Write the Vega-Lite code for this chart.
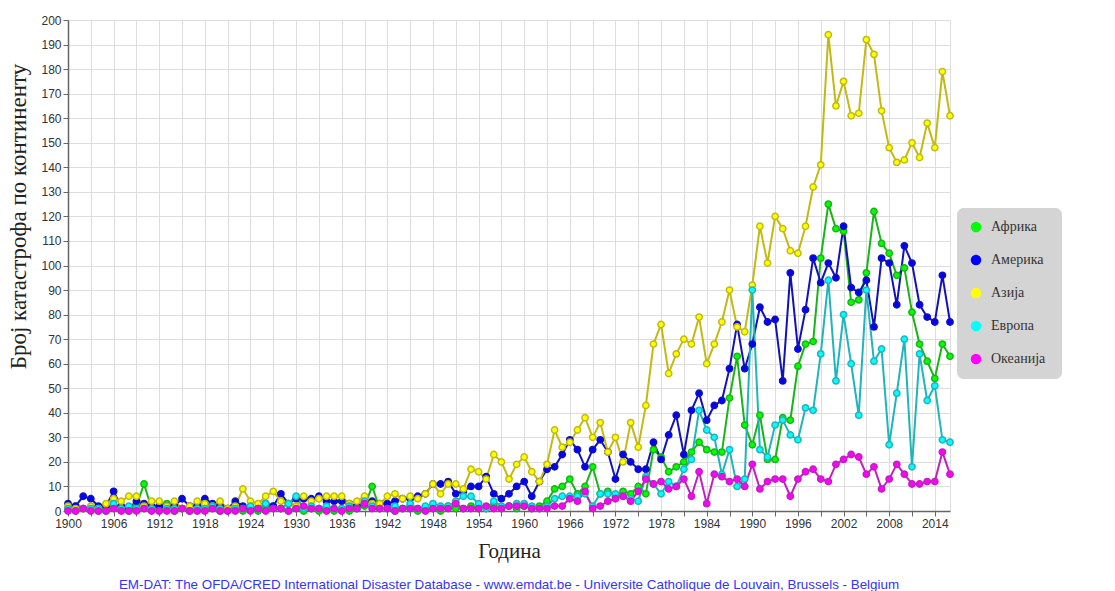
{
"$schema": "https://vega.github.io/schema/vega-lite/v6.json",
"width": 882,
"height": 491,
"autosize": {"type": "none"},
"padding": {"left": 68, "top": 20, "right": 165, "bottom": 80},
"background": "white",
"config": {"view": {"stroke": "#dddddd"}},
"title": {"text": "EM-DAT: The OFDA/CRED International Disaster Database - www.emdat.be - Universite Catholique de Louvain, Brussels - Belgium", "orient": "bottom", "anchor": "middle", "color": "#3535f0", "font": "Liberation Sans", "fontSize": 13.4, "fontWeight": "normal", "offset": 17},
"data": {"values": [
{"year":1900,"Африка":1,"Америка":3,"Азија":2,"Европа":1,"Океанија":0},
{"year":1901,"Африка":2,"Америка":2,"Азија":1,"Европа":0,"Океанија":0},
{"year":1902,"Африка":1,"Америка":6,"Азија":1,"Европа":1,"Океанија":1},
{"year":1903,"Африка":1,"Америка":5,"Азија":2,"Европа":1,"Океанија":0},
{"year":1904,"Африка":0,"Америка":2,"Азија":1,"Европа":1,"Океанија":0},
{"year":1905,"Африка":1,"Америка":2,"Азија":3,"Европа":0,"Океанија":0},
{"year":1906,"Африка":2,"Америка":8,"Азија":5,"Европа":3,"Океанија":1},
{"year":1907,"Африка":1,"Америка":2,"Азија":4,"Европа":1,"Океанија":0},
{"year":1908,"Африка":0,"Америка":1,"Азија":6,"Европа":2,"Океанија":0},
{"year":1909,"Африка":2,"Америка":4,"Азија":6,"Европа":1,"Океанија":0},
{"year":1910,"Африка":11,"Америка":3,"Азија":2,"Европа":1,"Океанија":1},
{"year":1911,"Африка":1,"Америка":2,"Азија":4,"Европа":1,"Океанија":0},
{"year":1912,"Африка":1,"Америка":2,"Азија":4,"Европа":0,"Океанија":0},
{"year":1913,"Африка":3,"Америка":2,"Азија":2,"Европа":1,"Океанија":0},
{"year":1914,"Африка":0,"Америка":2,"Азија":4,"Европа":1,"Океанија":0},
{"year":1915,"Африка":1,"Америка":5,"Азија":1,"Европа":1,"Океанија":1},
{"year":1916,"Африка":0,"Америка":2,"Азија":2,"Европа":0,"Океанија":0},
{"year":1917,"Африка":1,"Америка":2,"Азија":4,"Европа":1,"Океанија":0},
{"year":1918,"Африка":2,"Америка":5,"Азија":3,"Европа":1,"Океанија":0},
{"year":1919,"Африка":1,"Америка":3,"Азија":2,"Европа":2,"Океанија":1},
{"year":1920,"Африка":0,"Америка":2,"Азија":4,"Европа":1,"Океанија":0},
{"year":1921,"Африка":1,"Америка":1,"Азија":1,"Европа":0,"Океанија":0},
{"year":1922,"Африка":1,"Америка":4,"Азија":2,"Европа":1,"Океанија":0},
{"year":1923,"Африка":0,"Америка":2,"Азија":9,"Европа":1,"Океанија":1},
{"year":1924,"Африка":1,"Америка":1,"Азија":4,"Европа":2,"Океанија":0},
{"year":1925,"Африка":0,"Америка":1,"Азија":3,"Европа":1,"Океанија":1},
{"year":1926,"Африка":1,"Америка":3,"Азија":6,"Европа":3,"Океанија":0},
{"year":1927,"Африка":2,"Америка":2,"Азија":8,"Европа":1,"Океанија":1},
{"year":1928,"Африка":1,"Америка":7,"Азија":4,"Европа":1,"Океанија":1},
{"year":1929,"Африка":0,"Америка":3,"Азија":3,"Европа":3,"Океанија":0},
{"year":1930,"Африка":1,"Америка":5,"Азија":2,"Европа":6,"Океанија":1},
{"year":1931,"Африка":0,"Америка":5,"Азија":6,"Европа":1,"Океанија":2},
{"year":1932,"Африка":1,"Америка":5,"Азија":4,"Европа":2,"Океанија":1},
{"year":1933,"Африка":0,"Америка":6,"Азија":5,"Европа":1,"Океанија":1},
{"year":1934,"Африка":1,"Америка":4,"Азија":6,"Европа":2,"Океанија":0},
{"year":1935,"Африка":0,"Америка":4,"Азија":6,"Европа":1,"Океанија":1},
{"year":1936,"Африка":1,"Америка":4,"Азија":6,"Европа":1,"Океанија":0},
{"year":1937,"Африка":0,"Америка":3,"Азија":3,"Европа":2,"Океанија":1},
{"year":1938,"Африка":1,"Америка":2,"Азија":4,"Европа":1,"Океанија":1},
{"year":1939,"Африка":2,"Америка":3,"Азија":6,"Европа":4,"Океанија":3},
{"year":1940,"Африка":10,"Америка":4,"Азија":3,"Европа":2,"Океанија":1},
{"year":1941,"Африка":1,"Америка":3,"Азија":3,"Европа":1,"Океанија":1},
{"year":1942,"Африка":1,"Америка":3,"Азија":6,"Европа":1,"Океанија":1},
{"year":1943,"Африка":0,"Америка":4,"Азија":7,"Европа":2,"Океанија":0},
{"year":1944,"Африка":1,"Америка":5,"Азија":5,"Европа":1,"Океанија":1},
{"year":1945,"Африка":1,"Америка":5,"Азија":6,"Европа":3,"Океанија":1},
{"year":1946,"Африка":0,"Америка":6,"Азија":5,"Европа":1,"Океанија":1},
{"year":1947,"Африка":1,"Америка":7,"Азија":7,"Европа":2,"Океанија":0},
{"year":1948,"Африка":1,"Америка":11,"Азија":11,"Европа":3,"Океанија":1},
{"year":1949,"Африка":0,"Америка":11,"Азија":7,"Европа":2,"Океанија":1},
{"year":1950,"Африка":2,"Америка":12,"Азија":11,"Европа":2,"Океанија":1},
{"year":1951,"Африка":1,"Америка":7,"Азија":11,"Европа":4,"Океанија":3},
{"year":1952,"Африка":1,"Америка":8,"Азија":9,"Европа":6,"Океанија":1},
{"year":1953,"Африка":2,"Америка":10,"Азија":17,"Европа":6,"Океанија":1},
{"year":1954,"Африка":1,"Америка":10,"Азија":16,"Европа":3,"Океанија":1},
{"year":1955,"Африка":1,"Америка":14,"Азија":13,"Европа":1,"Океанија":2},
{"year":1956,"Африка":2,"Америка":7,"Азија":23,"Европа":4,"Океанија":1},
{"year":1957,"Африка":1,"Америка":5,"Азија":20,"Европа":2,"Океанија":1},
{"year":1958,"Африка":2,"Америка":7,"Азија":13,"Европа":2,"Океанија":2},
{"year":1959,"Африка":1,"Америка":10,"Азија":19,"Европа":3,"Океанија":2},
{"year":1960,"Африка":2,"Америка":12,"Азија":22,"Европа":3,"Океанија":2},
{"year":1961,"Африка":1,"Америка":6,"Азија":16,"Европа":2,"Океанија":1},
{"year":1962,"Африка":2,"Америка":12,"Азија":12,"Европа":1,"Океанија":1},
{"year":1963,"Африка":4,"Америка":17,"Азија":19,"Европа":2,"Океанија":1},
{"year":1964,"Африка":9,"Америка":18,"Азија":33,"Европа":5,"Океанија":2},
{"year":1965,"Африка":10,"Америка":23,"Азија":26,"Европа":6,"Океанија":2},
{"year":1966,"Африка":13,"Америка":29,"Азија":28,"Европа":6,"Океанија":5},
{"year":1967,"Африка":7,"Америка":25,"Азија":33,"Европа":6,"Океанија":4},
{"year":1968,"Африка":10,"Америка":18,"Азија":38,"Европа":7,"Океанија":8},
{"year":1969,"Африка":18,"Америка":25,"Азија":30,"Европа":2,"Океанија":1},
{"year":1970,"Африка":7,"Америка":29,"Азија":36,"Европа":7,"Океанија":2},
{"year":1971,"Африка":8,"Америка":24,"Азија":24,"Европа":7,"Океанија":4},
{"year":1972,"Африка":6,"Америка":13,"Азија":30,"Европа":7,"Океанија":5},
{"year":1973,"Африка":8,"Америка":23,"Азија":20,"Европа":6,"Океанија":6},
{"year":1974,"Африка":7,"Америка":20,"Азија":36,"Европа":5,"Океанија":4},
{"year":1975,"Африка":10,"Америка":17,"Азија":26,"Европа":4,"Океанија":8},
{"year":1976,"Африка":7,"Америка":17,"Азија":43,"Европа":14,"Океанија":13},
{"year":1977,"Африка":25,"Америка":28,"Азија":68,"Европа":11,"Океанија":11},
{"year":1978,"Африка":22,"Америка":21,"Азија":76,"Европа":7,"Океанија":12},
{"year":1979,"Африка":16,"Америка":31,"Азија":56,"Европа":12,"Океанија":9},
{"year":1980,"Африка":18,"Америка":39,"Азија":64,"Европа":10,"Океанија":10},
{"year":1981,"Африка":20,"Америка":23,"Азија":70,"Европа":17,"Океанија":13},
{"year":1982,"Африка":24,"Америка":41,"Азија":68,"Европа":21,"Океанија":6},
{"year":1983,"Африка":28,"Америка":48,"Азија":79,"Европа":41,"Океанија":16},
{"year":1984,"Африка":25,"Америка":37,"Азија":60,"Европа":33,"Океанија":3},
{"year":1985,"Африка":24,"Америка":43,"Азија":68,"Европа":30,"Океанија":15},
{"year":1986,"Африка":24,"Америка":45,"Азија":77,"Европа":15,"Океанија":14},
{"year":1987,"Африка":46,"Америка":58,"Азија":90,"Европа":25,"Океанија":12},
{"year":1988,"Африка":63,"Америка":76,"Азија":75,"Европа":10,"Океанија":13},
{"year":1989,"Африка":35,"Америка":58,"Азија":73,"Европа":13,"Океанија":10},
{"year":1990,"Африка":27,"Америка":68,"Азија":92,"Европа":90,"Океанија":19},
{"year":1991,"Африка":39,"Америка":83,"Азија":116,"Европа":25,"Океанија":9},
{"year":1992,"Африка":21,"Америка":77,"Азија":101,"Европа":22,"Океанија":12},
{"year":1993,"Африка":21,"Америка":78,"Азија":120,"Европа":35,"Океанија":13},
{"year":1994,"Африка":38,"Америка":53,"Азија":115,"Европа":37,"Океанија":13},
{"year":1995,"Африка":37,"Америка":97,"Азија":106,"Европа":31,"Океанија":6},
{"year":1996,"Африка":59,"Америка":66,"Азија":105,"Европа":29,"Океанија":13},
{"year":1997,"Африка":68,"Америка":82,"Азија":116,"Европа":42,"Океанија":16},
{"year":1998,"Африка":69,"Америка":103,"Азија":132,"Европа":41,"Океанија":17},
{"year":1999,"Африка":103,"Америка":93,"Азија":141,"Европа":64,"Океанија":13},
{"year":2000,"Африка":125,"Америка":101,"Азија":194,"Европа":94,"Океанија":12},
{"year":2001,"Африка":115,"Америка":95,"Азија":165,"Европа":53,"Океанија":19},
{"year":2002,"Африка":114,"Америка":116,"Азија":175,"Европа":80,"Океанија":21},
{"year":2003,"Африка":85,"Америка":91,"Азија":161,"Европа":60,"Океанија":23},
{"year":2004,"Африка":86,"Америка":89,"Азија":162,"Европа":39,"Океанија":22},
{"year":2005,"Африка":97,"Америка":94,"Азија":192,"Европа":90,"Океанија":15},
{"year":2006,"Африка":122,"Америка":75,"Азија":186,"Европа":61,"Океанија":18},
{"year":2007,"Африка":109,"Америка":103,"Азија":163,"Европа":66,"Океанија":9},
{"year":2008,"Африка":105,"Америка":101,"Азија":148,"Европа":27,"Океанија":13},
{"year":2009,"Африка":96,"Америка":84,"Азија":142,"Европа":48,"Океанија":19},
{"year":2010,"Африка":99,"Америка":108,"Азија":143,"Европа":70,"Океанија":15},
{"year":2011,"Африка":81,"Америка":101,"Азија":150,"Европа":18,"Океанија":11},
{"year":2012,"Африка":68,"Америка":84,"Азија":144,"Европа":64,"Океанија":11},
{"year":2013,"Африка":61,"Америка":79,"Азија":158,"Европа":45,"Океанија":12},
{"year":2014,"Африка":54,"Америка":77,"Азија":148,"Европа":51,"Океанија":12},
{"year":2015,"Африка":68,"Америка":96,"Азија":179,"Европа":29,"Океанија":24},
{"year":2016,"Африка":63,"Америка":77,"Азија":161,"Европа":28,"Океанија":15}
]},
"transform": [{"fold": ["Африка", "Америка", "Азија", "Европа", "Океанија"], "as": ["continent", "count"]}],
"encoding": {
  "x": {"field": "year", "type": "quantitative",
    "scale": {"domain": [1900, 2016], "nice": false, "zero": false},
    "axis": {"title": "Година", "values": [1900,1903,1906,1909,1912,1915,1918,1921,1924,1927,1930,1933,1936,1939,1942,1945,1948,1951,1954,1957,1960,1963,1966,1969,1972,1975,1978,1981,1984,1987,1990,1993,1996,1999,2002,2005,2008,2011,2014],
      "labelExpr": "datum.value % 6 == 4 ? datum.label : ''", "format": "d",
      "grid": true, "gridColor": "#dddddd", "domainColor": "#666666", "domainWidth": 1.5, "tickColor": "#666666", "tickSize": 5,
      "labelFont": "Liberation Sans", "labelFontSize": 12, "labelColor": "#333333", "labelPadding": 2, "labelFlush": false, "labelOverlap": false,
      "titleFont": "Liberation Serif", "titleFontSize": 21, "titleFontWeight": "normal", "titleColor": "#222222", "titleY": 40, "titleBaseline": "middle"}},
  "y": {"field": "count", "type": "quantitative",
    "scale": {"domain": [0, 200], "nice": false},
    "axis": {"title": "Број катастрофа по континенту", "values": [0,10,20,30,40,50,60,70,80,90,100,110,120,130,140,150,160,170,180,190,200],
      "grid": true, "gridColor": "#dddddd", "domainColor": "#666666", "domainWidth": 1.5, "tickColor": "#666666", "tickSize": 5,
      "labelFont": "Liberation Sans", "labelFontSize": 12, "labelColor": "#333333", "labelPadding": 2, "labelOverlap": false,
      "titleFont": "Liberation Serif", "titleFontSize": 23, "titleFontWeight": "normal", "titleColor": "#222222", "titleX": -50, "titleY": 196, "titleBaseline": "middle", "titleAngle": -90}}
},
"layer": [
  {"mark": {"type": "line", "strokeWidth": 2},
   "encoding": {"stroke": {"field": "continent", "type": "nominal", "scale": {"domain": ["Африка", "Америка", "Азија", "Европа", "Океанија"], "range": ["#19b419", "#1212b8", "#c2ba12", "#20b4bc", "#c020c0"]}}}},
  {"mark": {"type": "point", "filled": true, "shape": "circle", "size": 40, "strokeWidth": 1.5, "opacity": 1},
   "encoding": {
     "stroke": {"field": "continent", "type": "nominal", "scale": {"domain": ["Африка", "Америка", "Азија", "Европа", "Океанија"], "range": ["#19b419", "#1212b8", "#c2ba12", "#20b4bc", "#c020c0"]}},
     "color": {"field": "continent", "type": "nominal", "scale": {"domain": ["Африка", "Америка", "Азија", "Европа", "Океанија"], "range": ["#00ff00", "#0000ff", "#ffff00", "#00ffff", "#ff00ff"]},
       "legend": {"title": "\u00a0\u00a0\u00a0\u00a0\u00a0\u00a0\u00a0\u00a0\u00a0\u00a0\u00a0\u00a0\u00a0\u00a0\u00a0\u00a0", "titleOrient": "right", "titleAngle": 0, "titleFontSize": 14, "titlePadding": 4, "orient": "none", "legendX": 889, "legendY": 188, "fillColor": "#d4d4d4", "strokeColor": "#d4d4d4", "cornerRadius": 6, "padding": 12,
         "symbolType": "circle", "symbolSize": 110, "symbolStrokeWidth": 0, "symbolOpacity": 1, "symbolOffset": 0,
         "labelFont": "Liberation Serif", "labelFontSize": 14, "labelColor": "#333333", "labelOffset": 8, "rowPadding": 19}}
   }}
]
}
